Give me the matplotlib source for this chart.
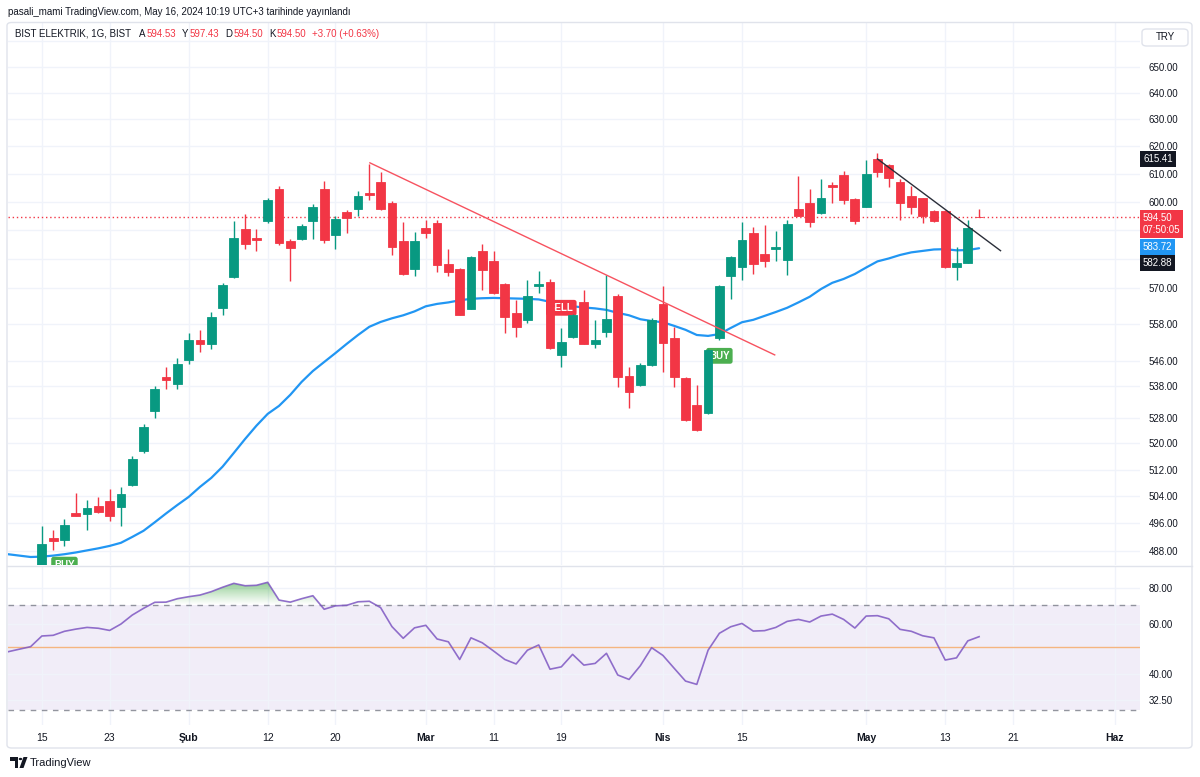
import numpy as np
import matplotlib.pyplot as plt
import matplotlib.transforms as mtransforms
from matplotlib.patches import FancyBboxPatch, Polygon, Circle
from matplotlib.lines import Line2D
from matplotlib.path import Path
from matplotlib.colors import LinearSegmentedColormap
from matplotlib.ticker import FixedLocator, NullLocator, FuncFormatter

plt.rcParams['font.family'] = ['Liberation Sans', 'DejaVu Sans']

# -----------------------------
# data (bar 0 = 15 Jan 2024, daily bars, BIST trading days)
# -----------------------------
opens = [483.5, 491.7, 491.0, 499.0, 498.7, 501.0, 502.7, 500.7, 507.4, 517.8,
         530.0, 541.0, 538.5, 546.5, 553.0, 551.5, 563.5, 574.0, 590.3, 587.4,
         593.3, 604.6, 586.3, 587.0, 593.3, 604.4, 588.4, 596.3, 597.3, 603.1,
         607.2, 599.7, 586.1, 576.5, 590.7, 592.5, 578.3, 576.6, 563.2, 582.8,
         579.2, 571.5, 561.7, 559.3, 570.9, 572.3, 548.0, 553.9, 565.3, 551.6,
         555.4, 567.5, 541.3, 538.3, 544.8, 564.7, 553.5, 540.7, 532.0, 529.6,
         553.5, 574.3, 577.4, 589.1, 581.7, 583.6, 579.8, 597.3, 599.5, 596.0,
         606.1, 609.6, 601.0, 598.3, 615.4, 613.3, 606.9, 601.9, 601.3, 596.8,
         596.8, 577.4, 578.6, 594.53]
highs = [495.3, 494.1, 497.3, 505.1, 502.9, 503.8, 506.1, 506.7, 516.2, 526.0,
         538.0, 544.0, 547.0, 555.0, 556.0, 562.0, 572.0, 593.3, 595.7, 590.3,
         601.3, 605.7, 587.0, 592.0, 599.3, 607.6, 594.8, 597.1, 604.0, 613.5,
         610.5, 600.2, 593.0, 589.3, 593.5, 593.6, 583.5, 577.0, 581.0, 585.3,
         582.8, 572.0, 566.0, 572.9, 575.9, 573.2, 556.9, 561.5, 569.3, 559.5,
         574.6, 568.0, 544.0, 545.3, 560.0, 570.7, 557.2, 541.0, 538.3, 550.0,
         571.0, 581.0, 593.0, 591.0, 591.7, 589.7, 593.6, 609.2, 604.4, 608.1,
         607.0, 611.2, 601.5, 615.1, 617.7, 613.5, 608.1, 605.7, 601.5, 597.0,
         597.0, 584.1, 593.6, 597.43]
lows = [480.0, 488.3, 489.3, 498.0, 494.1, 499.0, 496.8, 495.3, 507.0, 517.2,
        528.0, 537.0, 537.0, 545.0, 549.0, 550.0, 561.0, 573.5, 583.4, 582.6,
        592.5, 585.0, 572.5, 586.5, 587.0, 585.7, 583.4, 589.0, 595.0, 600.5,
        597.0, 581.5, 574.5, 574.3, 587.3, 575.5, 574.1, 561.0, 563.0, 569.5,
        568.0, 555.1, 553.9, 558.4, 568.4, 550.0, 544.2, 553.5, 551.5, 550.2,
        553.9, 537.6, 531.0, 538.0, 544.5, 542.6, 537.6, 527.0, 524.0, 529.3,
        553.0, 566.4, 572.7, 574.8, 577.4, 579.2, 574.6, 595.0, 591.0, 595.8,
        599.7, 599.3, 592.2, 598.0, 609.0, 605.4, 593.6, 595.7, 592.5, 593.0,
        577.0, 572.7, 578.5, 594.50]
closes = [490.0, 490.9, 495.6, 498.2, 500.5, 499.3, 498.0, 504.6, 515.2, 525.0,
          537.0, 540.0, 545.0, 553.0, 551.5, 560.5, 571.2, 587.2, 585.2, 586.5,
          600.7, 585.5, 583.9, 591.5, 598.3, 586.6, 593.8, 594.2, 601.9, 602.5,
          597.5, 584.3, 574.9, 586.1, 589.0, 578.0, 575.7, 561.1, 580.6, 576.1,
          568.4, 560.6, 557.1, 567.5, 571.5, 550.2, 552.1, 561.1, 551.6, 552.9,
          559.7, 540.8, 536.2, 544.8, 559.3, 552.0, 540.8, 527.3, 524.2, 549.6,
          570.7, 580.8, 586.6, 578.3, 579.2, 584.0, 592.2, 595.1, 592.8, 601.5,
          605.1, 600.7, 593.3, 609.9, 610.8, 608.4, 599.5, 598.3, 595.0, 593.3,
          577.2, 578.6, 590.8, 594.50]

# moving average and RSI, bars -3 .. 83
line_start = -3
ma_values = [487.0, 486.6, 486.2, 486.3, 486.6, 487.0, 487.5, 488.1, 488.7, 489.4,
             490.3, 492.0, 493.8, 496.3, 498.9, 501.4, 503.8, 506.8, 509.5, 512.9,
             517.1, 521.4, 525.5, 529.2, 531.7, 535.2, 539.3, 542.8, 545.7, 548.6,
             551.6, 554.5, 557.2, 558.8, 560.0, 561.0, 562.3, 564.0, 564.8, 565.3,
             566.0, 566.5, 566.7, 566.8, 566.7, 566.6, 566.5, 566.3, 565.5, 564.7,
             564.0, 563.6, 563.3, 562.8, 561.8, 561.0, 559.7, 559.1, 558.7, 557.5,
             556.2, 554.5, 554.2, 554.8, 556.8, 558.7, 559.5, 560.8, 562.1, 563.5,
             565.3, 567.2, 569.8, 571.9, 573.2, 574.9, 577.1, 579.2, 580.2, 581.4,
             582.3, 582.8, 583.3, 583.4, 583.0, 583.1, 583.72]
rsi_values = [48.0, 49.0, 50.0, 54.5, 54.8, 56.6, 57.6, 58.4, 58.0, 57.0,
              60.0, 64.5, 68.1, 71.5, 71.6, 73.6, 74.8, 75.8, 77.9, 80.7,
              83.3, 81.7, 82.0, 84.0, 72.8, 71.6, 73.6, 75.4, 67.6, 69.5,
              69.8, 71.8, 72.1, 68.5, 58.8, 53.5, 58.2, 59.4, 53.2, 52.0,
              45.1, 53.7, 51.6, 48.3, 45.1, 43.5, 48.6, 50.7, 41.7, 42.5,
              47.0, 43.1, 43.7, 47.4, 39.8, 38.4, 42.9, 49.6, 46.6, 42.0,
              37.9, 36.9, 48.6, 55.7, 58.7, 60.3, 56.7, 56.9, 58.4, 61.3,
              62.3, 61.0, 64.0, 65.0, 62.3, 58.1, 64.0, 64.2, 62.6, 57.5,
              56.6, 54.6, 53.7, 44.9, 45.7, 52.4, 54.2]

# trend lines (bar, price)
red_trend = ([29.05, 64.9], [614.0, 548.0])
black_trend = ([74.0, 84.9], [615.41, 582.88])

# signals (bar, price, text)
signals = [(2, 484.0, 'BUY'), (46, 563.5, 'SELL'), (60, 547.7, 'BUY')]

last_price = 594.50
ma_last = 583.72
trend_end = 582.88
trend_start = 615.41
countdown = '07:50:05'
symbol_text = 'BIST ELEKTRIK, 1G, BIST'
ohlc_head = [('A', '594.53'), ('Y', '597.43'), ('D', '594.50'), ('K', '594.50')]
change_text = '+3.70 (+0.63%)'

price_ticks = [660, 650, 640, 630, 620, 610, 600, 590, 580, 570, 558, 546, 538,
               528, 520, 512, 504, 496, 488]
hidden_ticks = [660, 590, 580]
rsi_ticks = [80, 60, 40, 32.5]
x_ticks = [0, 6, 13, 20, 26, 34, 40, 46, 55, 62, 73, 80, 86, 95]
x_labels = ['15', '23', 'Şub', '12', '20', 'Mar', '11', '19', 'Nis', '15',
            'May', '13', '21', 'Haz']
month_labels = ['Şub', 'Mar', 'Nis', 'May', 'Haz']

GREEN = '#089981'
RED = '#F23645'
TXT = '#131722'
GRID = '#f0f3fa'
BORDER = '#e0e3eb'

W, H = 1200, 777
def fx(px):
    return px / W
def fy(py):
    return 1 - py / H

fig = plt.figure(figsize=(12, 7.77), dpi=100)
fig.patch.set_facecolor('white')

ax = fig.add_axes([fx(8), fy(565), fx(1140) - fx(8), fy(23) - fy(565)])
axr = fig.add_axes([fx(8), fy(725), fx(1140) - fx(8), fy(566) - fy(725)], sharex=ax)

XMIN, XMAX = -3.0, 97.25

# -----------------------------
# main pane
# -----------------------------
ax.set_yscale('log')
o = np.array(opens); h = np.array(highs); l = np.array(lows); c = np.array(closes)
idx = np.arange(len(o))
cols = np.where(c >= o, GREEN, RED)
ax.vlines(idx, l, h, colors=cols, lw=1.0, zorder=3)
ax.bar(idx, np.abs(c - o), bottom=np.minimum(o, c), width=0.78, color=cols,
       edgecolor=cols, lw=0.6, zorder=4)

xl = np.arange(line_start, line_start + len(ma_values))
ax.plot(xl, ma_values, color='#2196F3', lw=1.6, zorder=2, solid_capstyle='round')

ax.plot(*red_trend, color='#F7525F', lw=1.0, zorder=5)
ax.plot(*black_trend, color='#2a2e39', lw=1.0, zorder=5)
ax.axhline(last_price, color=RED, lw=1.0, ls=(0, (1, 2)), zorder=2.2)

for bx, py, txt in signals:
    col = '#4CAF50' if txt == 'BUY' else '#F23645'
    ax.text(bx, py, txt, ha='center', va='center', fontsize=7, color='white',
            fontweight='bold', zorder=2.5, clip_on=True,
            bbox=dict(boxstyle='round,pad=0.3,rounding_size=0.25', fc=col, ec='none'))

ax.set_xlim(XMIN, XMAX)
ax.set_ylim(483.9, 667.0)
ax.yaxis.set_major_locator(FixedLocator(price_ticks))
ax.yaxis.set_minor_locator(NullLocator())
ax.yaxis.set_major_formatter(FuncFormatter(
    lambda v, p: '' if round(v) in hidden_ticks else f'{v:.2f}'))
ax.yaxis.tick_right()
ax.tick_params(axis='y', length=0, pad=6, labelsize=7, labelcolor=TXT)
ax.set_xticks(x_ticks)
ax.tick_params(axis='x', length=0, labelbottom=False)
ax.grid(True, color=GRID, lw=1.0, zorder=0)
for s in ax.spines.values():
    s.set_visible(False)

# price scale labels
bt = mtransforms.blended_transform_factory(ax.transAxes, ax.transData)
def price_tag(val, text, fc, dy=0):
    ax.annotate(text, xy=(1.0, val), xycoords=bt, xytext=(3, dy),
                textcoords='offset pixels', ha='left', va='center', fontsize=7,
                color='white', annotation_clip=False, linespacing=1.25,
                bbox=dict(boxstyle='square,pad=0.3', fc=fc, ec='none'))

price_tag(trend_start, f'{trend_start:.2f}', TXT)
price_tag(last_price, f'{last_price:.2f}\n{countdown}', RED, dy=-7)
price_tag(ma_last, f'{ma_last:.2f}', '#2196F3', dy=1)
price_tag(trend_end, f'{trend_end:.2f}', TXT, dy=-12)

# -----------------------------
# RSI pane
# -----------------------------
axr.set_yscale('log')
rsi = np.array(rsi_values)
axr.fill_between([XMIN, XMAX], 30, 70, color='#7E57C2', alpha=0.1, lw=0, zorder=1)
axr.axhline(70, color='#787B86', lw=1.0, ls=(0, (4, 4)), alpha=0.8, zorder=2)
axr.axhline(30, color='#787B86', lw=1.0, ls=(0, (4, 4)), alpha=0.8, zorder=2)
axr.axhline(50, color='#F5B580', lw=1.0, zorder=2)

poly = axr.fill_between(xl, 70, rsi, where=rsi > 70, interpolate=True,
                        color='none', lw=0)
clip = Path.make_compound_path(*poly.get_paths())
cmap = LinearSegmentedColormap.from_list(
    'ob', [(0.30, 0.69, 0.31, 0.0), (0.30, 0.69, 0.31, 0.65)])
grad = np.linspace(0, 1, 256).reshape(-1, 1)
im = axr.imshow(grad, extent=[XMIN, XMAX, 70, 84.5], origin='lower',
                aspect='auto', cmap=cmap, zorder=2.5, interpolation='bilinear')
im.set_clip_path(clip, transform=axr.transData)

axr.plot(xl, rsi, color='#7E57C2', lw=1.2, alpha=0.85, zorder=3)

axr.set_xlim(XMIN, XMAX)
axr.set_ylim(26.6, 95.8)
axr.yaxis.set_major_locator(FixedLocator(rsi_ticks))
axr.yaxis.set_minor_locator(NullLocator())
axr.yaxis.set_major_formatter(FuncFormatter(lambda v, p: f'{v:.2f}'))
axr.yaxis.tick_right()
axr.tick_params(axis='y', length=0, pad=6, labelsize=7, labelcolor=TXT)
axr.set_xticks(x_ticks)
axr.set_xticklabels(x_labels)
axr.tick_params(axis='x', length=0, pad=6, labelsize=7.5, labelcolor=TXT)
for t in axr.get_xticklabels():
    if t.get_text() in month_labels:
        t.set_fontweight('bold')
axr.grid(True, color=GRID, lw=1.0, zorder=0)
for s in axr.spines.values():
    s.set_visible(False)

# -----------------------------
# frame, header, footer
# -----------------------------
fig.add_artist(FancyBboxPatch((fx(7), fy(748)), fx(1192) - fx(7), fy(22.5) - fy(748),
                              boxstyle='round,pad=0,rounding_size=0.004',
                              transform=fig.transFigure, fill=False, ec=BORDER, lw=1))
fig.add_artist(Line2D([fx(7), fx(1192)], [fy(565.5), fy(565.5)], color=BORDER, lw=1))

fig.add_artist(FancyBboxPatch((fx(1142), fy(46)), fx(1188) - fx(1142), fy(29) - fy(46),
                              boxstyle='round,pad=0,rounding_size=0.004',
                              transform=fig.transFigure, fc='white', ec=BORDER, lw=1))
fig.text(fx(1165), fy(37.5), 'TRY', ha='center', va='center', fontsize=7, color=TXT)

fig.text(fx(8), fy(12), 'pasali_mami TradingView.com, May 16, 2024 10:19 UTC+3 tarihinde yayınlandı',
         ha='left', va='center', fontsize=7, color=TXT)

# legend line: pieces laid out one after another
renderer = fig.canvas.get_renderer()
pieces = [(symbol_text, TXT, 8)]
for k, v in ohlc_head:
    pieces.append((k, TXT, 1))
    pieces.append((v, RED, 6))
pieces.append((change_text, RED, 0))
cur = 15
for text, col, gap in pieces:
    t = fig.text(fx(cur), fy(34), text, ha='left', va='center', fontsize=7, color=col)
    cur += t.get_window_extent(renderer).width + gap

# footer logo
fig.add_artist(Polygon([(fx(10), fy(757)), (fx(18), fy(757)), (fx(18), fy(768)),
                        (fx(14.5), fy(768)), (fx(14.5), fy(760.5)), (fx(10), fy(760.5))],
                       closed=True, fc=TXT, ec='none', transform=fig.transFigure))
fig.add_artist(Circle((fx(20.5), fy(759)), 1.8 / W, fc=TXT, ec='none',
                      transform=fig.transFigure))
fig.add_artist(Polygon([(fx(23.5), fy(757)), (fx(27.5), fy(757)), (fx(23.5), fy(768)),
                        (fx(19.5), fy(768))],
                       closed=True, fc=TXT, ec='none', transform=fig.transFigure))
fig.text(fx(30), fy(762.5), 'TradingView', ha='left', va='center', fontsize=8,
         color=TXT)

fig.savefig('out.png', dpi=100, facecolor='white')
